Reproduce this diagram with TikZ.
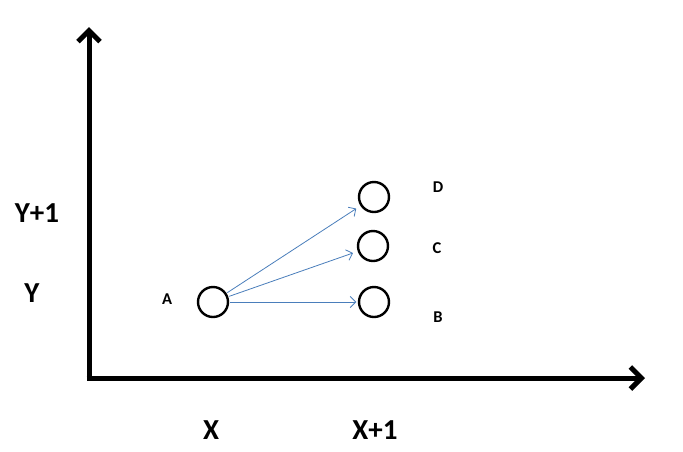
\documentclass[tikz,border=0pt]{standalone}
\usepackage{fontspec}
\setmainfont{Carlito}
\usetikzlibrary{arrows.meta}
\definecolor{arrowblue}{RGB}{74,126,187}
\begin{document}
\begin{tikzpicture}[x=1pt,y=-1pt,
  axis/.style={line width=5pt,-{Straight Barb[length=11pt,width=22pt,line width=5pt]}},
  state/.style={circle,draw=black,line width=2.4pt,minimum size=30pt,inner sep=0pt},
  link/.style={draw=arrowblue,line width=0.8pt,-{Straight Barb[length=5.5pt,width=11pt,line width=0.8pt]},shorten >=5pt,shorten <=1pt},
  small/.style={font=\bfseries\fontsize{16.5}{16.5}\selectfont},
  big/.style={font=\bfseries\fontsize{29}{29}\selectfont}]
\useasboundingbox (0,0) rectangle (683,451);
\coordinate (O) at (89,378);
\coordinate (ytop) at (89,27);
\coordinate (xend) at (645,378);
\draw[axis] (O) -- (ytop);
\draw[axis] ([xshift=-2.5pt]O) -- (xend);
\node[state] (A) at (213,302) {};
\node[state] (D) at (374,197) {};
\node[state] (C) at (373,246) {};
\node[state] (B) at (374,302) {};
\node[small] (lA) at (167,299) {A};
\node[small] (lD) at (438,187) {D};
\node[small] (lC) at (437,248) {C};
\node[small] (lB) at (438,317) {B};
\node[big] (ly1) at (37,213) {Y+1};
\node[big] (ly) at (32,293) {Y};
\node[big] (lx) at (211,430) {X};
\node[big] (lx1) at (375,430) {X+1};
\draw[link] (A) -- (D);
\draw[link] (A) -- (C);
\draw[link,shorten >=1.5pt] (A) -- (B);
\end{tikzpicture}
\end{document}
